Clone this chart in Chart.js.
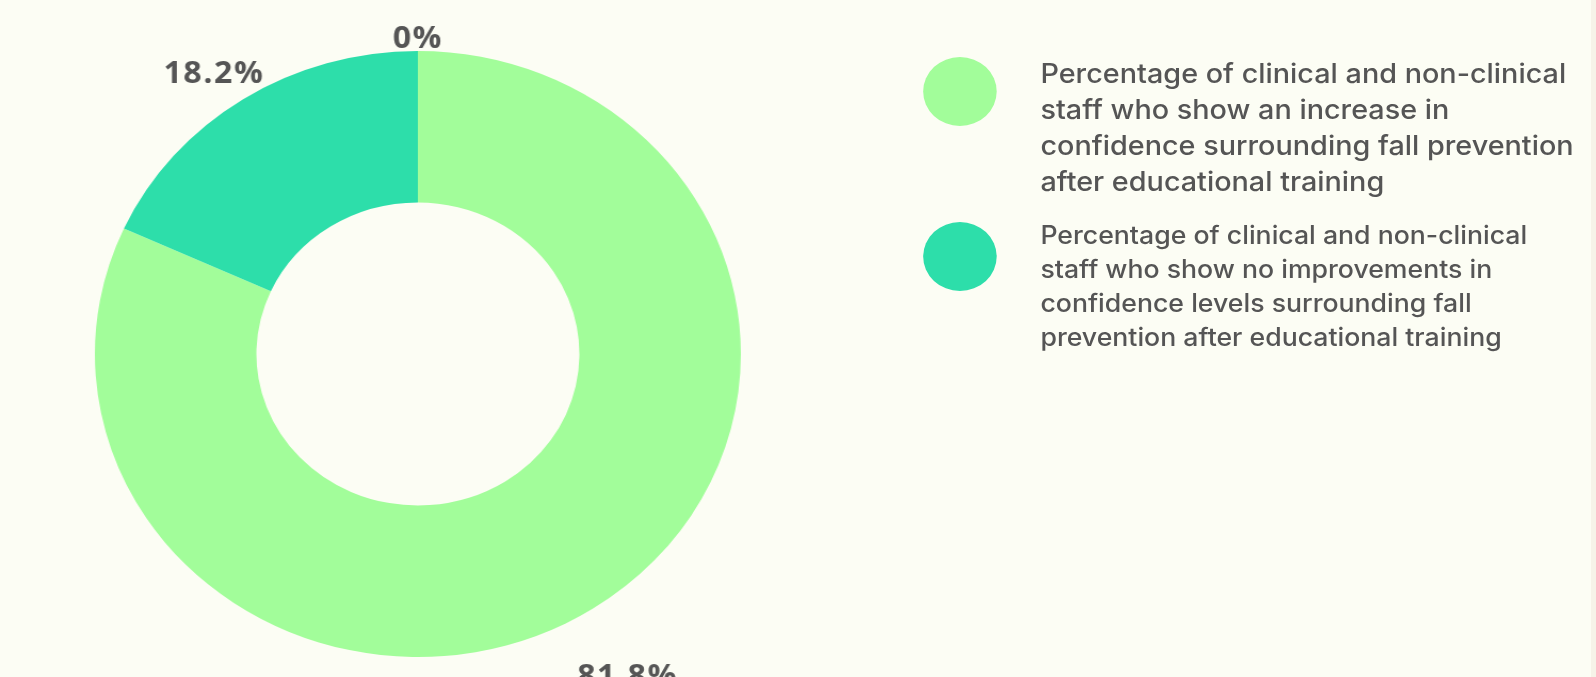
<!DOCTYPE html>
<html>
<head>
<meta charset="utf-8">
<script src="https://cdn.jsdelivr.net/npm/chart.js@4.4.1/dist/chart.umd.min.js"></script>
<style>
  html, body { margin: 0; padding: 0; background: #fcfdf4; overflow: hidden; }
  body { width: 1596px; height: 677px; position: relative; }
  /* reference is stretched horizontally, so the whole stage is too */
  .stage { position: absolute; left: 0; top: 0; width: 1497px; height: 677px;
           transform: scaleX(1.066); transform-origin: 0 0; }
  .chart-wrap { position: absolute; left: 0; top: 0; width: 784px; height: 677px; }
  .legend { position: absolute; left: 0; top: 0; }
  .leg-item { position: absolute; left: 866px; }
  .leg-dot { position: absolute; left: 0; width: 69px; height: 69px; border-radius: 50%; }
  .leg-text { position: absolute; left: 110px; color: #555555; font-family: Inter, sans-serif; font-weight: 500; }
  .edge { position: absolute; right: 0; top: 0; width: 5px; height: 677px; background: #f6f3e8; }
</style>
</head>
<body>
<div class="stage">
  <div class="chart-wrap"><canvas id="donut"></canvas></div>
  <div class="legend" id="legend"></div>
</div>
<div class="edge"></div>
<script>
// ---- data ----
const labels = [
  'Percentage of clinical and non-clinical staff who show an increase in confidence surrounding fall prevention after educational training',
  'Percentage of clinical and non-clinical staff who show no improvements in confidence levels surrounding fall prevention after educational training',
  'Other'
];
const values = [81.8, 18.2, 0];
const colors = ['#a2fd9a', '#2ddeaa', '#9bb8f5'];

// ---- outside labels ----
const outsideLabels = {
  id: 'outsideLabels',
  afterDatasetsDraw(chart) {
    const ctx = chart.ctx;
    const ds = chart.data.datasets[0];
    const meta = chart.getDatasetMeta(0);
    ctx.save();
    ctx.font = 'bold 30px "Open Sans", sans-serif';
    ctx.letterSpacing = '1.5px';
    ctx.fillStyle = '#555555';
    ctx.textAlign = 'center';
    ctx.textBaseline = 'alphabetic';
    meta.data.forEach((arc, i) => {
      const p = arc.getProps(['x', 'y', 'startAngle', 'endAngle', 'outerRadius'], true);
      const mid = (p.startAngle + p.endAngle) / 2;
      const r = p.outerRadius + ds.labelOffset[i];
      const x = p.x + Math.cos(mid) * r + ds.labelNudgeX[i];
      const y = p.y + Math.sin(mid) * r;
      ctx.fillText(ds.data[i] + '%', x, y + 11);
    });
    ctx.restore();
  }
};

new Chart(document.getElementById('donut'), {
  type: 'doughnut',
  data: {
    labels: labels,
    datasets: [{
      data: values,
      backgroundColor: colors,
      borderWidth: 0,
      labelOffset: [79, 32, 14],
      labelNudgeX: [-10, -10, 0]
    }]
  },
  options: {
    responsive: true,
    maintainAspectRatio: false,
    animation: false,
    cutout: '50%',
    layout: { padding: { left: 89, right: 89, top: 51, bottom: 20 } },
    plugins: { legend: { display: false }, tooltip: { enabled: false } }
  },
  plugins: [outsideLabels]
});

// ---- legend (html, skips empty slices) ----
const legendBoxes = [
  { top: 57, textTop: -1, size: 27, lh: 36, width: 520 },
  { top: 222, textTop: -4, size: 25, lh: 34, width: 470 }
];
const legend = document.getElementById('legend');
let k = 0;
values.forEach((v, i) => {
  if (v <= 0) return;
  const b = legendBoxes[k++];
  const item = document.createElement('div');
  item.className = 'leg-item';
  item.style.top = b.top + 'px';
  item.innerHTML = `<div class="leg-dot" style="top:0;background:${colors[i]}"></div>
    <div class="leg-text" style="top:${b.textTop}px;font-size:${b.size}px;line-height:${b.lh}px;width:${b.width}px">${labels[i]}</div>`;
  legend.appendChild(item);
});
</script>
</body>
</html>
